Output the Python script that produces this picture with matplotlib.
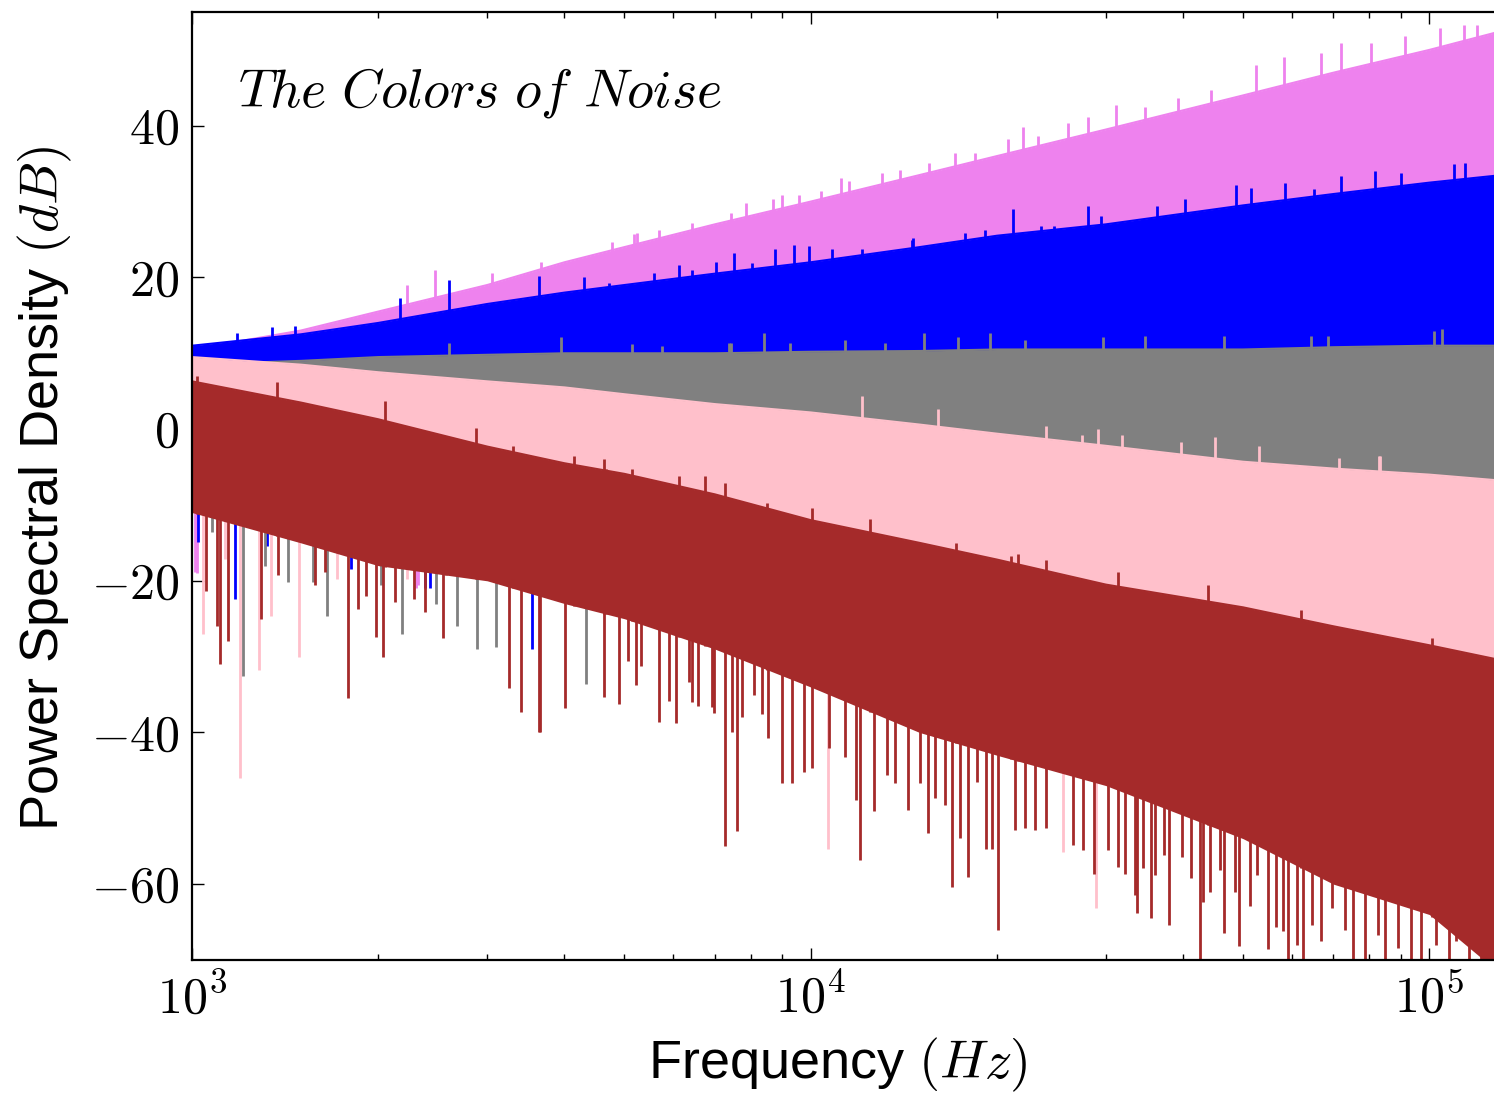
import numpy as np
import matplotlib
matplotlib.use("Agg")
import matplotlib.pyplot as plt
from matplotlib.ticker import FixedLocator, FuncFormatter, LogLocator, NullFormatter

plt.rcParams['mathtext.fontset'] = 'cm'
plt.rcParams['font.family'] = ['Liberation Sans', 'DejaVu Sans']

# ---------------- data ----------------
freq_knots = [1000, 1500, 2000, 3000, 4000, 5000, 7000, 10000, 15000, 20000,
              30000, 50000, 70000, 100000, 131072]

violet_top   = [10.5, 13.0, 15.5, 19.0, 22.0, 24.0, 27.0, 30.0, 33.5, 36.0, 39.5, 44.0, 47.0, 50.0, 52.5]
violet_floor = [5, 5, 6, 7, 8, 9, 10, 11, 12, 13, 14, 15, 16, 17, 18]
blue_top     = [11.0, 12.5, 14.0, 16.5, 18.0, 19.0, 20.5, 22.0, 24.0, 25.5, 27.0, 29.5, 31.0, 32.5, 33.5]
blue_floor   = [0, 0, 0, 0, 0, 0, 0, 0, 0, 0, 0, 0, 0, 0, 0]
gray_top     = [8.5, 9.0, 9.5, 9.8, 10.0, 10.0, 10.0, 10.2, 10.3, 10.5, 10.5, 10.5, 10.8, 11.0, 11.0]
gray_floor   = [-10, -10, -10, -10, -10, -10, -10, -10, -10, -10, -10, -10, -10, -10, -10]
pink_top     = [9.5, 8.5, 7.5, 6.3, 5.5, 4.6, 3.3, 2.2, 0.6, -0.6, -2.2, -4.3, -5.2, -6.0, -6.8]
pink_floor   = [-9, -12, -14, -16, -18, -20, -22, -26, -30, -33, -37, -42, -46, -50, -53]
brown_top    = [6.3, 3.5, 1.3, -2.3, -4.5, -5.9, -8.6, -12.0, -15.0, -17.2, -20.5, -23.5, -26.0, -28.5, -30.5]
brown_floor  = [-11, -15, -18, -20, -23, -25, -29, -34, -40, -43, -47, -54, -60, -64, -72]

# upward spikes on the top edges (frequency in Hz, level in dB)
violet_peaks_f  = [2230, 2466, 3058, 3668, 4775, 4891, 5183, 5242, 5686, 6429,
                   6850, 7435, 7854, 8680, 8978, 9573, 10380, 11180, 11540, 13050,
                   13970, 15520, 17130, 18440, 20840, 22060, 23290, 26100, 28080, 31160,
                   34700, 39180, 44380, 52410, 58140, 66790, 72110, 80640, 91270, 104200,
                   113900, 119400]
violet_peaks_db = [19.0, 21.0, 20.6, 22.0, 24.7, 23.5, 25.7, 25.9, 26.3, 27.2,
                   26.8, 28.5, 29.8, 30.3, 30.9, 30.9, 31.4, 33.1, 32.7, 33.8,
                   34.2, 35.1, 36.4, 36.4, 38.2, 39.9, 38.6, 40.4, 41.2, 42.8,
                   42.5, 43.6, 44.7, 48.0, 49.1, 49.6, 50.9, 50.9, 51.8, 52.9,
                   53.3, 53.3]
blue_peaks_f    = [1182, 1346, 1466, 2165, 2607, 3641, 4305, 4718, 5578, 6125,
                   6430, 7018, 7513, 8040, 8764, 9389, 9926, 10810, 12090, 14580,
                   14660, 17760, 19130, 21260, 23560, 24780, 28080, 29500, 36290, 40330,
                   48650, 51440, 58550, 65100, 72110, 81850, 90130, 109700, 114300]
blue_peaks_db   = [12.7, 13.4, 13.6, 17.3, 19.7, 20.2, 20.0, 19.3, 20.6, 21.7,
                   21.0, 22.1, 23.2, 21.9, 23.7, 24.3, 24.1, 23.7, 23.7, 25.0,
                   25.2, 25.9, 26.3, 29.0, 26.8, 26.8, 29.4, 28.1, 29.4, 30.3,
                   32.2, 31.8, 32.5, 31.6, 33.4, 34.0, 33.8, 34.9, 35.1]
gray_peaks_f    = [2607, 3953, 5150, 5758, 7385, 7430, 8398, 9266, 11380, 13200,
                   15220, 17330, 19510, 22190, 29690, 34700, 46650, 64320, 68530, 101800,
                   104950]
gray_peaks_db   = [11.4, 12.1, 11.2, 11.0, 11.4, 11.4, 12.7, 11.4, 11.8, 11.4,
                   12.7, 12.1, 12.7, 11.8, 12.1, 12.3, 12.3, 12.3, 12.3, 12.9,
                   13.2]
pink_peaks_f    = [12090, 16090, 24030, 27440, 29140, 31860, 39660, 45000, 53120, 71510,
                   82970, 83380]
pink_peaks_db   = [4.4, 2.6, 0.4, -0.75, 0.0, -0.75, -1.7, -1.0, -2.2, -3.8,
                   -3.6, -3.6]
brown_peaks_f   = [1019, 1371, 2048, 2572, 2883, 3297, 4148, 4637, 4666, 5150,
                   6125, 6745, 7265, 8500, 10037, 12480, 17200, 21100, 21660, 24030,
                   31390, 43850, 61930, 101100]
brown_peaks_db  = [7.0, 6.2, 3.7, -0.9, 0.2, -2.2, -3.6, -4.0, -5.3, -5.2,
                   -6.2, -6.2, -7.1, -9.7, -10.4, -11.8, -15.0, -16.7, -16.5, -17.2,
                   -18.8, -20.5, -23.8, -27.5]

# downward spikes (deep dips)
violet_dips_f   = [1011, 1019, 1395, 2304, 2315]
violet_dips_db  = [-18.9, -19.0, -12.7, -21.0, -20.6]
blue_dips_f     = [1022, 1173, 1320, 1809, 2376, 2421, 3548]
blue_dips_db    = [-14.9, -22.4, -15.4, -18.4, -21.0, -21.0, -29.0]
gray_dips_f     = [1005, 1076, 1208, 1311, 1430, 1569, 1651, 2022, 2189, 2484,
                   2686, 2893, 3104, 4337]
gray_dips_db    = [-8.8, -13.6, -32.5, -18.0, -20.2, -20.2, -24.6, -20.6, -27.0, -23.0,
                   -25.9, -29.0, -28.7, -33.6]
pink_dips_f     = [1042, 1130, 1195, 1282, 1341, 1488, 1713, 2230, 10670, 25590,
                   28960]
pink_dips_db    = [-27.0, -17.1, -46.0, -31.8, -24.6, -30.0, -19.7, -19.7, -55.3, -55.7,
                   -63.2]
brown_dips_f    = [1053, 1096, 1110, 1144, 1292, 1378, 1579, 1638, 1786, 1853,
                   1912, 1985, 2034, 2125, 2288, 2376, 2545, 3258, 3397, 3641,
                   3655, 4012, 4637, 4899, 5074, 5212, 5310, 5686, 5900, 6052,
                   6357, 6432, 6575, 6923, 6980, 7265, 7462, 7596, 7749, 8090,
                   8330, 8522,
                   8989, 9330, 9743, 10050, 10690, 11380, 11840, 12000, 12640, 13280,
                   13700, 14390, 15030, 15460, 15890, 16490, 16900, 17430, 17930, 18540,
                   19240, 19610, 20050, 21380, 22190, 23030, 24050, 26560, 27560, 28680,
                   30240, 31400, 32170, 33400,
                   33690, 34410, 35530, 36060, 37200, 37890, 39810, 41210, 42610, 43150,
                   44230, 45900, 46650, 48530, 49260, 51320, 52600, 54930, 56440, 58080,
                   59160, 61020, 62560, 64530, 66790, 69500, 73020, 75340, 78650, 82660,
                   84720, 89000, 93540, 97080, 102600, 107800, 110500, 116100, 121300]
brown_dips_db   = [-21.3, -25.9, -31.0, -28.0, -25.0, -19.3, -20.6, -18.9, -35.5, -23.7,
                   -22.0, -27.4, -30.0, -22.8, -22.4, -24.1, -27.6, -34.2, -37.3, -39.9,
                   -40.0, -36.8, -35.3, -36.2, -30.6, -33.8, -31.3, -38.6, -35.8, -38.8,
                   -33.4, -36.0, -36.5, -36.6, -37.4, -55.0, -39.9, -53.0, -37.9, -35.0,
                   -37.6, -40.7,
                   -46.7, -46.7, -45.2, -44.7, -42.1, -43.2, -48.9, -56.8, -50.4, -45.6,
                   -46.7, -50.2, -46.7, -53.3, -48.7, -49.6, -60.4, -53.9, -59.1, -46.5,
                   -55.3, -55.3, -66.0, -52.9, -52.6, -52.9, -52.6, -54.8, -55.5, -58.6,
                   -55.5, -57.7, -58.6, -61.4,
                   -63.8, -57.9, -64.5, -58.8, -56.1, -65.4, -56.4, -59.2, -75.0, -62.3,
                   -61.0, -58.1, -66.4, -61.0, -68.2, -62.9, -58.8, -68.6, -65.6, -66.2,
                   -75.0, -68.0, -75.0, -65.4, -67.5, -63.2, -66.0, -75.0, -75.0, -66.7,
                   -75.0, -68.4, -75.0, -75.0, -68.0, -75.0, -67.5, -75.0, -75.0]

series = [
    ('#EE82EE', violet_top, violet_floor, violet_peaks_f, violet_peaks_db, violet_dips_f, violet_dips_db),
    ('#0000FF', blue_top, blue_floor, blue_peaks_f, blue_peaks_db, blue_dips_f, blue_dips_db),
    ('#808080', gray_top, gray_floor, gray_peaks_f, gray_peaks_db, gray_dips_f, gray_dips_db),
    ('#FFC0CB', pink_top, pink_floor, pink_peaks_f, pink_peaks_db, pink_dips_f, pink_dips_db),
    ('#A52A2A', brown_top, brown_floor, brown_peaks_f, brown_peaks_db, brown_dips_f, brown_dips_db),
]

# ---------------- figure ----------------
W, H = 1494, 1093
fig = plt.figure(figsize=(W / 100, H / 100), dpi=100)
ax = fig.add_axes([192 / W, 1 - 960 / H, (1502 - 192) / W, (960 - 12) / H])

lk = np.log10(freq_knots)
for color, top, floor, pf, pdb, df, ddb in series:
    ax.fill_between(freq_knots, floor, top, color=color, lw=0, zorder=2)
    ax.plot(freq_knots, top, color=color, lw=1.5, zorder=2)
    pf = np.asarray(pf, float)
    base_p = np.interp(np.log10(pf), lk, floor)
    ax.vlines(pf, base_p, pdb, colors=color, lw=2.0, zorder=2)
    df = np.asarray(df, float)
    base_d = np.interp(np.log10(df), lk, top)
    ax.vlines(df, ddb, base_d, colors=color, lw=2.0, zorder=2)

ax.set_xscale('log')
ax.set_xlim(1000, 131072)
ax.set_ylim(-70, 55)

ax.xaxis.set_major_locator(LogLocator(base=10, numticks=10))
ax.xaxis.set_minor_locator(LogLocator(base=10, subs=np.arange(2, 10), numticks=20))
ax.xaxis.set_minor_formatter(NullFormatter())
ax.xaxis.set_major_formatter(FuncFormatter(lambda v, p: r'$10^{%d}$' % int(round(np.log10(v)))))
ax.yaxis.set_major_locator(FixedLocator([-60, -40, -20, 0, 20, 40]))
ax.yaxis.set_major_formatter(FuncFormatter(lambda v, p: r'$%d$' % int(v)))

ax.tick_params(which='both', direction='in', top=True, right=True, width=1.0, color='black')
ax.tick_params(which='major', length=8.6)
ax.tick_params(which='minor', length=4.3)
ax.tick_params(axis='y', labelsize=36, pad=9)
ax.tick_params(axis='x', labelsize=36, pad=10)
for s in ax.spines.values():
    s.set_linewidth(1.6)
    s.set_zorder(5)

ax.text(0.035, 0.90, r'$\mathit{The\ Colors\ of\ Noise}$', transform=ax.transAxes,
        fontsize=39, ha='left', va='baseline', zorder=6)

fig.text(838 / W, 1 - 1078 / H, r'Frequency $(Hz)$', fontsize=39, ha='center', va='baseline')
fig.text(45 / W, 1 - 488 / H, r'Power Spectral Density $(dB)$', fontsize=39,
         rotation=90, ha='center', va='center')

fig.savefig('out.png', dpi=100)
